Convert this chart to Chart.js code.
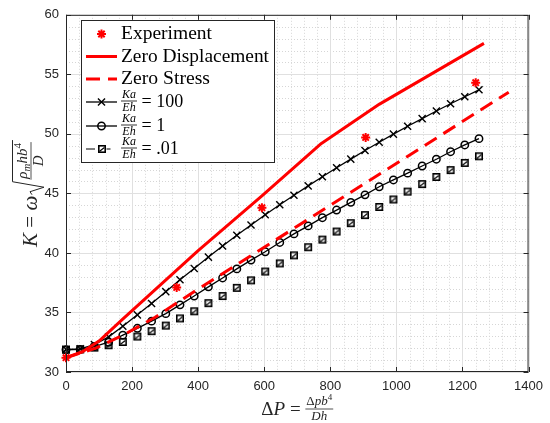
<!DOCTYPE html>
<html>
<head>
  <meta charset="utf-8">
  <title>K vs dP</title>
  <script src="https://cdn.jsdelivr.net/npm/chart.js"></script>
  <style>
    html, body { margin: 0; padding: 0; background: #fff; }
    .chart-container { position: relative; width: 550px; height: 423px; }
  </style>
</head>
<body>
  <div class="chart-container">
    <canvas id="kChart" width="550" height="423"></canvas>
  </div>
  <script>
    // load values of the three model curves
    const modelP = [0, 43, 86, 129, 172, 216, 259, 302, 345, 388, 431, 474, 517, 560, 603,
                    647, 690, 733, 776, 819, 862, 905, 948, 991, 1034, 1078, 1121, 1164, 1207, 1250];
    // Ka/Eh = 100
    const kStiff = [31.9, 31.95, 32.3, 32.95, 33.85, 34.8, 35.75, 36.75, 37.75, 38.7, 39.65, 40.58, 41.48, 42.35, 43.2,
                    44.05, 44.85, 45.63, 46.4, 47.15, 47.88, 48.6, 49.3, 49.98, 50.64, 51.28, 51.92, 52.53, 53.12, 53.7];
    // Ka/Eh = 1
    const kMid = [31.87, 31.9, 32.14, 32.5, 33.1, 33.67, 34.27, 34.9, 35.64, 36.38, 37.15, 37.9, 38.66, 39.4, 40.1,
                  40.88, 41.6, 42.27, 42.96, 43.6, 44.25, 44.88, 45.56, 46.13, 46.7, 47.3, 47.87, 48.5, 49.07, 49.6];
    // Ka/Eh = .01
    const kSoft = [31.87, 31.9, 32.05, 32.25, 32.52, 32.98, 33.43, 33.9, 34.5, 35.1, 35.78, 36.38, 37.07, 37.7, 38.44,
                   39.12, 39.8, 40.48, 41.12, 41.8, 42.5, 43.18, 43.86, 44.49, 45.15, 45.78, 46.38, 46.96, 47.56, 48.12];

    const expP = [0, 335, 593, 907, 1240];
    const expK = [31.2, 37.1, 43.8, 49.7, 54.3];

    const dispP = [0, 50, 100, 170, 400, 593, 773, 949, 1265];
    const dispK = [31.2, 31.7, 32.6, 34.4, 40.2, 44.8, 49.2, 52.5, 57.6];

    const stressP = [0, 90, 180, 270, 385, 1340];
    const stressK = [31.2, 32.0, 33.2, 34.6, 36.7, 53.5];

    const xTicks = [0, 200, 400, 600, 800, 1000, 1200, 1400];
    const yTicks = [30, 35, 40, 45, 50, 55, 60];
    const xMinorStep = 40;
    const yMinorStep = 1;

    const SERIF = '"Liberation Serif", "Times New Roman", serif';

    function pts(xs, ys) {
      return xs.map((v, i) => ({ x: v, y: ys[i] }));
    }

    // square marker with the dashed line showing through it
    function squareMark() {
      const c = document.createElement('canvas');
      c.width = 10; c.height = 10;
      const g = c.getContext('2d');
      g.strokeStyle = '#000';
      g.lineWidth = 1.6;
      g.strokeRect(1.8, 1.8, 6.4, 6.4);
      g.lineWidth = 1.2;
      g.beginPath(); g.moveTo(2.6, 7.2); g.lineTo(7.4, 3.6); g.stroke();
      return c;
    }
    const sqMark = squareMark();

    // text runs: [text, size, italic, dy]
    function runs(ctx, list, x, y, draw) {
      let w = 0;
      for (const r of list) {
        ctx.font = (r[2] ? 'italic ' : '') + r[1] + 'px ' + SERIF;
        if (draw) ctx.fillText(r[0], x + w, y + (r[3] || 0));
        w += ctx.measureText(r[0]).width;
      }
      return w;
    }

    function fraction(ctx, num, den, x, barY, gapUp, gapDown, draw) {
      const wn = runs(ctx, num, 0, 0, false);
      const wd = runs(ctx, den, 0, 0, false);
      const w = Math.max(wn, wd) + 2;
      if (draw) {
        runs(ctx, num, x + (w - wn) / 2, barY - gapUp, true);
        runs(ctx, den, x + (w - wd) / 2, barY + gapDown, true);
        ctx.fillRect(x, barY - 0.4, w, 0.8);
      }
      return w;
    }

    function drawMarker(ctx, style, x, y, r, color, lw) {
      ctx.save();
      ctx.strokeStyle = color;
      ctx.lineWidth = lw;
      ctx.beginPath();
      if (style === 'circle') {
        ctx.arc(x, y, r, 0, Math.PI * 2);
      } else if (style === 'crossRot' || style === 'star') {
        const o = r * Math.SQRT1_2;
        ctx.moveTo(x - o, y - o); ctx.lineTo(x + o, y + o);
        ctx.moveTo(x - o, y + o); ctx.lineTo(x + o, y - o);
        if (style === 'star') {
          ctx.moveTo(x, y - r); ctx.lineTo(x, y + r);
          ctx.moveTo(x - r, y); ctx.lineTo(x + r, y);
        }
      }
      ctx.stroke();
      if (style instanceof HTMLCanvasElement) {
        ctx.drawImage(style, Math.round(x - style.width / 2), Math.round(y - style.height / 2));
      }
      ctx.restore();
    }

    const matlabAxes = {
      id: 'matlabAxes',
      beforeDatasetsDraw(chart) {
        const { ctx, chartArea: a, scales: { x, y } } = chart;
        ctx.save();
        ctx.lineWidth = 1;
        // minor grid
        ctx.strokeStyle = '#d6d6d6';
        ctx.setLineDash([1, 2]);
        ctx.beginPath();
        for (let v = xTicks[0]; v <= xTicks[xTicks.length - 1]; v += xMinorStep) {
          if (xTicks.includes(v)) continue;
          const px = Math.round(x.getPixelForValue(v)) + 0.5;
          ctx.moveTo(px, a.top); ctx.lineTo(px, a.bottom);
        }
        for (let v = yTicks[0]; v <= yTicks[yTicks.length - 1]; v += yMinorStep) {
          if (yTicks.includes(v)) continue;
          const py = Math.round(y.getPixelForValue(v)) + 0.5;
          ctx.moveTo(a.left, py); ctx.lineTo(a.right, py);
        }
        ctx.stroke();
        // major grid
        ctx.setLineDash([]);
        ctx.strokeStyle = '#e0e0e0';
        ctx.beginPath();
        xTicks.forEach(v => {
          const px = Math.round(x.getPixelForValue(v)) + 0.5;
          ctx.moveTo(px, a.top); ctx.lineTo(px, a.bottom);
        });
        yTicks.forEach(v => {
          const py = Math.round(y.getPixelForValue(v)) + 0.5;
          ctx.moveTo(a.left, py); ctx.lineTo(a.right, py);
        });
        ctx.stroke();
        ctx.restore();
      },
      afterDatasetsDraw(chart) {
        const { ctx, chartArea: a, scales: { x, y } } = chart;
        ctx.save();
        ctx.strokeStyle = '#262626';
        ctx.lineWidth = 1;
        ctx.strokeRect(a.left + 0.5, a.top + 0.5, a.right - a.left - 1, a.bottom - a.top - 1);
        ctx.beginPath();
        xTicks.forEach(v => {
          const px = Math.round(x.getPixelForValue(v)) + 0.5;
          ctx.moveTo(px, a.bottom); ctx.lineTo(px, a.bottom - 5);
          ctx.moveTo(px, a.top); ctx.lineTo(px, a.top + 5);
        });
        yTicks.forEach(v => {
          const py = Math.round(y.getPixelForValue(v)) + 0.5;
          ctx.moveTo(a.left, py); ctx.lineTo(a.left + 5, py);
          ctx.moveTo(a.right, py); ctx.lineTo(a.right - 5, py);
        });
        ctx.stroke();
        ctx.restore();
      },
      afterDraw(chart) {
        const { ctx, chartArea: a } = chart;
        ctx.save();
        ctx.textBaseline = 'alphabetic';
        ctx.textAlign = 'left';

        // x axis title: dP = dp b^4 / (D h)
        ctx.fillStyle = '#262626';
        const xMain = [['\u0394', 19, false], ['P', 19, true], [' = ', 19, false]];
        const xNum = [['\u0394', 13, false], ['p', 13, true], ['b', 13, true], ['4', 9, false, -5]];
        const xDen = [['D', 13, true], ['h', 13, true]];
        const wMain = runs(ctx, xMain, 0, 0, false);
        const wFrac = fraction(ctx, xNum, xDen, 0, 0, 0, 0, false);
        const x0 = (a.left + a.right) / 2 - (wMain + wFrac) / 2;
        const base = 415;
        runs(ctx, xMain, x0, base, true);
        fraction(ctx, xNum, xDen, x0 + wMain, base - 6, 4, 10.5, true);

        // y axis title: K = w sqrt(rho_m h b^4 / D)
        const yMain = [['K', 21, true], [' = ', 21, false], ['\u03c9', 21, true]];
        const yNum = [['\u03c1', 15, true], ['m', 11, true, 3], ['h', 15, true], ['b', 15, true], ['4', 11, false, -6]];
        const yDen = [['D', 15, true]];
        const wy = runs(ctx, yMain, 0, 0, false);
        const wyf = fraction(ctx, yNum, yDen, 0, 0, 0, 0, false);
        const total = wy + 15 + wyf + 2;
        ctx.translate(37, 194);
        ctx.rotate(-Math.PI / 2);
        let u = -total / 2;
        runs(ctx, yMain, u, 0, true);
        u += wy + 1;
        ctx.strokeStyle = '#262626';
        ctx.lineWidth = 1;
        ctx.beginPath();
        ctx.moveTo(u, -5); ctx.lineTo(u + 3, -7); ctx.lineTo(u + 7.5, 7);
        ctx.lineTo(u + 13, -24.5); ctx.lineTo(u + 14 + wyf + 3, -24.5);
        ctx.stroke();
        fraction(ctx, yNum, yDen, u + 15, -6, 4.5, 11.5, true);
        ctx.restore();

        // legend box
        ctx.save();
        const L = { x: 81, y: 20, w: 193, h: 142 };
        ctx.fillStyle = '#fff';
        ctx.fillRect(L.x, L.y, L.w, L.h);
        ctx.strokeStyle = '#262626';
        ctx.lineWidth = 1;
        ctx.strokeRect(L.x + 0.5, L.y + 0.5, L.w, L.h);
        const rowsY = [34, 56.5, 79, 102, 126, 149];
        const ds = chart.data.datasets;
        const lx0 = 86, lx1 = 117, mx = 101.5, tx = 121;
        ds.forEach((d, i) => {
          const ry = rowsY[i];
          ctx.save();
          if (d.showLine !== false) {
            ctx.strokeStyle = d.borderColor;
            ctx.lineWidth = d.borderWidth;
            ctx.setLineDash(d.borderDash || []);
            ctx.beginPath(); ctx.moveTo(lx0, ry); ctx.lineTo(lx1, ry); ctx.stroke();
          } else if (d.legendDash) {
            ctx.strokeStyle = '#000';
            ctx.lineWidth = 1.2;
            ctx.beginPath();
            ctx.moveTo(lx0, ry); ctx.lineTo(lx0 + 9, ry);
            ctx.moveTo(mx + 5, ry); ctx.lineTo(mx + 9, ry);
            ctx.stroke();
          }
          ctx.restore();
          if (d.pointRadius > 0 || d.pointStyle instanceof HTMLCanvasElement) {
            drawMarker(ctx, d.pointStyle, mx, ry, d.pointRadius, d.pointBorderColor || d.borderColor, d.pointBorderWidth || d.borderWidth);
          }
          ctx.fillStyle = '#000';
          if (d.ratio) {
            const fw = fraction(ctx, [['K', 12, true], ['a', 12, true]], [['E', 12, true], ['h', 12, true]], tx, ry - 1, 3, 10, true);
            runs(ctx, [[' = ' + d.ratio, 18, false]], tx + fw, ry + 5, true);
          } else {
            ctx.font = '18px ' + SERIF;
            const target = { 'Experiment': 91, 'Zero Displacement': 148, 'Zero Stress': 89 }[d.label];
            const w = ctx.measureText(d.label).width;
            ctx.save();
            ctx.translate(tx, ry + 5);
            ctx.scale(target ? target / w : 1, 1);
            ctx.fillText(d.label, 0, 0);
            ctx.restore();
          }
        });
        ctx.restore();
      }
    };

    const tickFont = { family: '"Liberation Sans", Arial, sans-serif', size: 13 };

    const kChart = new Chart(document.getElementById('kChart'), {
      type: 'scatter',
      data: {
        datasets: [
          {
            label: 'Experiment',
            data: pts(expP, expK),
            showLine: false,
            pointStyle: 'star',
            pointRadius: 4.5,
            pointBorderWidth: 2,
            borderColor: '#ff0000',
            pointBorderColor: '#ff0000',
            pointBackgroundColor: 'rgba(0,0,0,0)',
            clip: false
          },
          {
            label: 'Zero Displacement',
            data: pts(dispP, dispK),
            showLine: true,
            borderColor: '#ff0000',
            borderWidth: 3,
            pointRadius: 0,
            borderJoinStyle: 'round',
            clip: false
          },
          {
            label: 'Zero Stress',
            data: pts(stressP, stressK),
            showLine: true,
            borderColor: '#ff0000',
            borderWidth: 3,
            borderDash: [14, 8],
            pointRadius: 0,
            clip: false
          },
          {
            label: 'Ka/Eh = 100',
            ratio: '100',
            data: pts(modelP, kStiff),
            showLine: true,
            borderColor: '#000',
            borderWidth: 1.3,
            pointStyle: 'crossRot',
            pointRadius: 5,
            pointBorderWidth: 1.4,
            pointBorderColor: '#000',
            pointBackgroundColor: 'rgba(0,0,0,0)',
            clip: false
          },
          {
            label: 'Ka/Eh = 1',
            ratio: '1',
            data: pts(modelP, kMid),
            showLine: true,
            borderColor: '#000',
            borderWidth: 1.3,
            pointStyle: 'circle',
            pointRadius: 3.7,
            pointBorderWidth: 1.5,
            pointBorderColor: '#000',
            pointBackgroundColor: 'rgba(0,0,0,0)',
            clip: false
          },
          {
            label: 'Ka/Eh = .01',
            ratio: '.01',
            legendDash: true,
            data: pts(modelP, kSoft),
            showLine: false,
            borderColor: '#000',
            pointStyle: sqMark,
            pointRadius: 4,
            clip: false
          }
        ]
      },
      options: {
        responsive: false,
        animation: false,
        devicePixelRatio: 1,
        layout: { padding: { top: 7, right: 21, left: 0, bottom: 0 } },
        plugins: {
          legend: { display: false },
          tooltip: { enabled: false }
        },
        scales: {
          x: {
            type: 'linear',
            min: 0,
            max: 1400,
            grid: { display: false, drawTicks: false },
            border: { display: false },
            afterBuildTicks: s => { s.ticks = xTicks.map(v => ({ value: v })); },
            afterFit: s => { s.height = 51; },
            ticks: {
              font: tickFont,
              color: '#262626',
              padding: 7,
              maxRotation: 0,
              callback: v => String(v)
            }
          },
          y: {
            type: 'linear',
            min: 30,
            max: 60,
            grid: { display: false, drawTicks: false },
            border: { display: false },
            afterBuildTicks: s => { s.ticks = yTicks.map(v => ({ value: v })); },
            afterFit: s => { s.width = 66; },
            ticks: {
              font: tickFont,
              color: '#262626',
              padding: 7,
              callback: v => String(v)
            }
          }
        }
      },
      plugins: [matlabAxes]
    });
  </script>
</body>
</html>
